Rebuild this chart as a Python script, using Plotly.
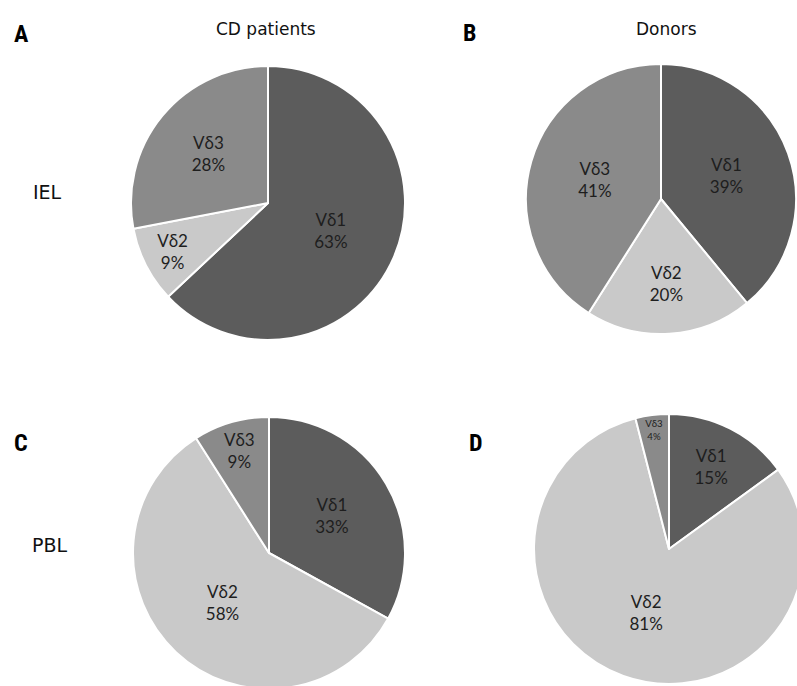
import plotly.graph_objects as go

OFF = 0
W, H = 805, 700

labels = ["Vδ1", "Vδ2", "Vδ3"]
colors = ["#5c5c5c", "#c9c9c9", "#8a8a8a"]

cd_iel = [63, 9, 28]
donor_iel = [39, 20, 41]
cd_pbl = [33, 58, 9]
donor_pbl = [15, 81, 4]

panel_letters = ["A", "B", "C", "D"]
col_titles = ["CD patients", "Donors"]
row_titles = ["IEL", "PBL"]

# pixel centre (x, y from top) and radius for each pie
pies = [
    (cd_iel, 268, 203, 137),
    (donor_iel, 661, 199, 135),
    (cd_pbl, 269, 553, 136),
    (donor_pbl, 669, 549, 135),
]


def px(x):
    return (x - OFF) / W


def py(y):
    return 1 - (y - OFF) / H


def dom(cx, cy, r):
    return dict(x=[px(cx - r), px(cx + r)], y=[py(cy + r), py(cy - r)])


fig = go.Figure()
for vals, cx, cy, r in pies:
    fig.add_trace(go.Pie(
        labels=labels,
        values=vals,
        sort=False,
        direction="clockwise",
        rotation=0,
        domain=dom(cx, cy, r),
        marker=dict(colors=colors, line=dict(color="white", width=2)),
        texttemplate="%{label}<br>%{value}%",
        textposition="inside",
        insidetextorientation="horizontal",
        textfont=dict(family="Lato, Carlito, sans-serif", size=17, color="#1e1e1e"),
        hoverinfo="label+value",
        showlegend=False,
    ))

narrow = "Liberation Sans Narrow, Arial Narrow, Roboto Condensed, sans-serif"
plain = "DejaVu Sans, Arial, sans-serif"
ann = []
letter_pos = [(12, 34), (461, 33), (12, 443), (467, 443)]
for t, (x, y) in zip(panel_letters, letter_pos):
    ann.append(dict(text="<b>%s</b>" % t, x=px(x), y=py(y), xref="paper", yref="paper",
                    xanchor="left", yanchor="middle", showarrow=False,
                    font=dict(family=narrow, size=24, color="black")))
for t, x in zip(col_titles, [266, 666]):
    ann.append(dict(text=t, x=px(x), y=py(29), xref="paper", yref="paper",
                    xanchor="center", yanchor="middle", showarrow=False,
                    font=dict(family=plain, size=17, color="#111111")))
for t, (x, y) in zip(row_titles, [(31, 192), (30, 545)]):
    ann.append(dict(text=t, x=px(x), y=py(y), xref="paper", yref="paper",
                    xanchor="left", yanchor="middle", showarrow=False,
                    font=dict(family=plain, size=19, color="#111111")))

fig.update_layout(
    width=W, height=H,
    margin=dict(l=0, r=0, t=0, b=0),
    paper_bgcolor="white",
    plot_bgcolor="white",
    annotations=ann,
)

fig.write_html(
    "out.html",
    config={"displayModeBar": False},
    post_script="document.body.style.margin='0';document.body.style.overflow='hidden';",
)
